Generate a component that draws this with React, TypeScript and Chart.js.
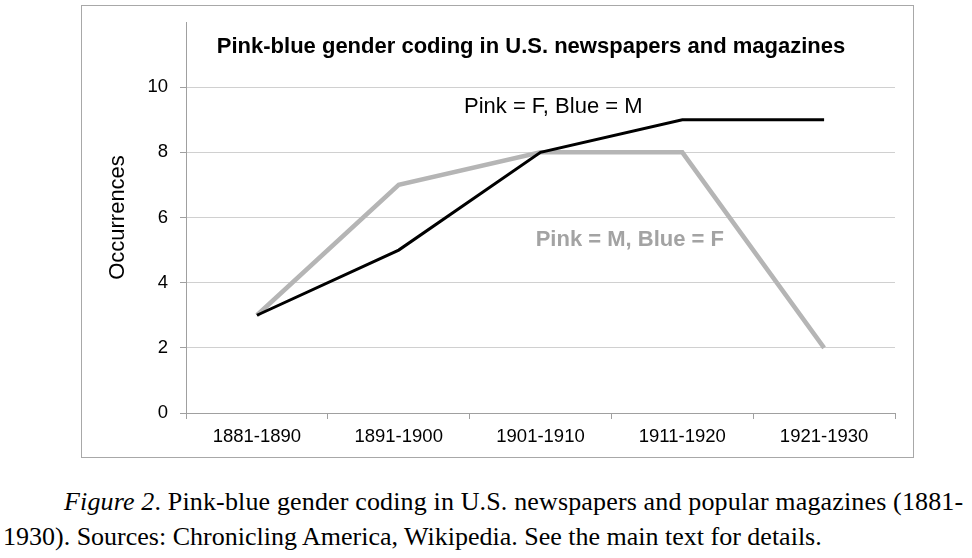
import React, { useEffect, useRef } from "react";
import { Chart, registerables } from "chart.js";

Chart.register(...registerables);

const categories = ["1881-1890", "1891-1900", "1901-1910", "1911-1920", "1921-1930"];
const pinkFemaleBlueMale = [3, 5, 8, 9, 9];
const pinkMaleBlueFemale = [3, 7, 8, 8, 2];
const yMin = 0;
const yMax = 12;
const yStep = 2;
const chartTitle = "Pink-blue gender coding in U.S. newspapers and magazines";
const seriesNames = ["Pink = F, Blue = M", "Pink = M, Blue = F"];
const yAxisTitle = "Occurrences";
const captionItalic = "Figure 2";
const captionLine1 = ". Pink-blue gender coding in U.S. newspapers and popular magazines (1881-";
const captionLine2 = "1930). Sources: Chronicling America, Wikipedia. See the main text for details.";

const SANS = '"Liberation Sans", Arial, sans-serif';

const textPlugin = {
  id: "textPlugin",
  afterDraw(chart: any) {
    const ctx = chart.ctx;
    const xs = chart.scales.x;
    const ys = chart.scales.y;
    ctx.save();
    ctx.textAlign = "center";
    ctx.textBaseline = "alphabetic";
    ctx.fillStyle = "#000";
    ctx.font = `bold 22px ${SANS}`;
    ctx.fillText(chartTitle, 449, 47);

    ctx.font = `22px ${SANS}`;
    ctx.fillStyle = "#000";
    ctx.fillText(seriesNames[0], xs.getPixelForValue(2.09), ys.getPixelForValue(9.2));

    ctx.font = `bold 22px ${SANS}`;
    ctx.fillStyle = "#a3a3a3";
    ctx.fillText(seriesNames[1], xs.getPixelForValue(2.63), ys.getPixelForValue(5.12));
    ctx.restore();
  },
};

export default function App() {
  const ref = useRef<HTMLCanvasElement | null>(null);

  useEffect(() => {
    if (!ref.current) return;
    const chart = new Chart(ref.current, {
      type: "line",
      data: {
        labels: categories,
        datasets: [
          {
            label: seriesNames[0],
            data: pinkFemaleBlueMale,
            borderColor: "#000000",
            borderWidth: 3,
            pointRadius: 0,
            tension: 0,
            fill: false,
          },
          {
            label: seriesNames[1],
            data: pinkMaleBlueFemale,
            borderColor: "#b5b5b5",
            borderWidth: 4.5,
            pointRadius: 0,
            tension: 0,
            fill: false,
          },
        ],
      },
      options: {
        responsive: true,
        maintainAspectRatio: false,
        animation: false,
        layout: { padding: { top: 16, right: 18, left: 0, bottom: 0 } },
        plugins: {
          legend: { display: false },
          tooltip: { enabled: false },
          title: { display: false },
        },
        scales: {
          x: {
            type: "category",
            offset: true,
            afterFit: (s: any) => {
              s.height = 44;
              s.paddingLeft = 0;
              s.paddingRight = 0;
            },
            grid: {
              offset: true,
              drawOnChartArea: false,
              drawTicks: true,
              tickLength: 6,
              tickColor: "#a0a0a0",
            },
            border: { color: "#a0a0a0", width: 1 },
            ticks: {
              color: "#000",
              padding: 7,
              font: { family: SANS, size: 18.5 },
              maxRotation: 0,
              autoSkip: false,
            },
          },
          y: {
            min: yMin,
            max: yMax,
            afterFit: (s: any) => {
              s.width = 104;
              s.paddingTop = 0;
              s.paddingBottom = 0;
            },
            ticks: {
              stepSize: yStep,
              color: "#000",
              padding: 12,
              font: { family: SANS, size: 18.5 },
              callback: (v: any) => (Number(v) === yMax ? "" : String(v)),
            },
            grid: {
              color: (c: any) => (c.tick && c.tick.value === yMax ? "rgba(0,0,0,0)" : "#d0d0d0"),
              tickColor: (c: any) => (c.tick && c.tick.value === yMax ? "rgba(0,0,0,0)" : "#a0a0a0"),
              tickLength: 6,
              lineWidth: 1,
            },
            border: { color: "#a0a0a0", width: 1 },
            title: {
              display: true,
              text: yAxisTitle,
              color: "#000",
              font: { family: SANS, size: 22 },
              padding: { top: 23, bottom: 0 },
            },
          },
        },
      },
      plugins: [textPlugin],
    });
    return () => chart.destroy();
  }, []);

  return (
    <div style={{ position: "absolute", left: 0, top: 0, width: 972, height: 558, background: "#fff", overflow: "hidden" }}>
      <div
        style={{
          position: "absolute",
          left: 81,
          top: 5,
          width: 831,
          height: 451,
          border: "1px solid #a8a8a8",
        }}
      >
        <canvas ref={ref} />
      </div>
      <div
        style={{
          position: "absolute",
          left: 0,
          top: 484,
          width: 972,
          fontFamily: '"Liberation Serif", "Times New Roman", serif',
          fontSize: 26,
          lineHeight: "35px",
          color: "#000",
          whiteSpace: "nowrap",
        }}
      >
        <div style={{ paddingLeft: 64, letterSpacing: "0.15px" }}>
          <i>{captionItalic}</i>
          {captionLine1}
        </div>
        <div style={{ paddingLeft: 3 }}>{captionLine2}</div>
      </div>
    </div>
  );
}
